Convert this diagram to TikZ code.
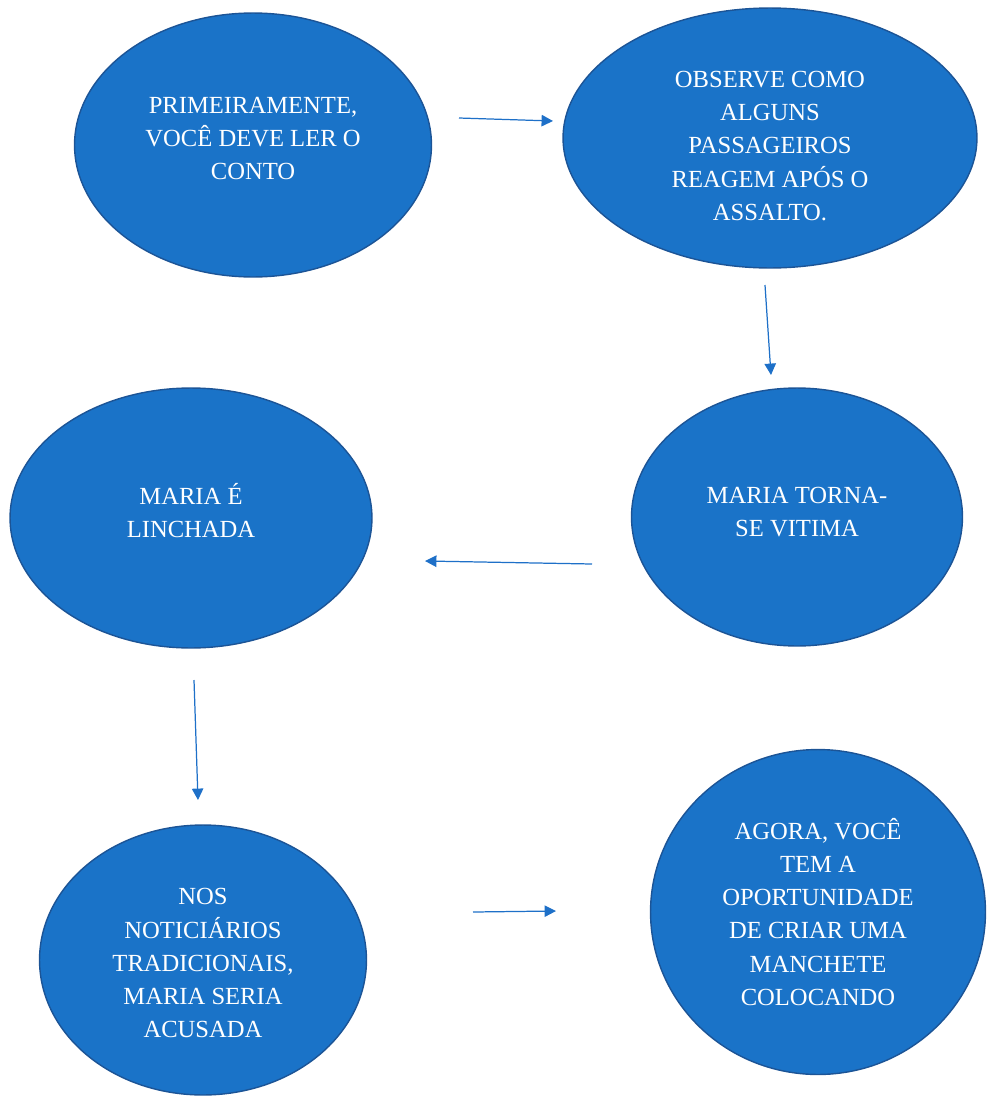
\documentclass[tikz,border=0pt]{standalone}
\usepackage{fontspec}
\setmainfont{Liberation Serif}
\usetikzlibrary{shapes.geometric,arrows.meta}

\definecolor{bubble}{RGB}{26,115,200}
\definecolor{bubbleline}{RGB}{28,84,150}
\definecolor{arrowblue}{RGB}{30,112,200}

\tikzset{
  bubble/.style={ellipse, fill=bubble, draw=bubbleline, line width=0.8pt,
    inner sep=0pt},
  words/.style={align=center, text=white, inner sep=0pt,
    font=\fontsize{14}{18.8}\selectfont},
  link/.style={draw=arrowblue, line width=0.7pt,
    -{Triangle[length=6.5pt,width=6.5pt]}}
}

\begin{document}
\begin{tikzpicture}[x=0.02cm,y=-0.02cm]
      \useasboundingbox (0,0) rectangle (988,1096);

      \node[bubble, minimum width=7.14cm, minimum height=5.28cm,
        label={[words, yshift=0.13cm]center:{PRIMEIRAMENTE,\\VOCÊ DEVE LER O\\CONTO}}]
        (ler) at (253,145) {};
      \node[bubble, minimum width=8.28cm, minimum height=5.2cm,
        label={[words, yshift=-0.16cm]center:{OBSERVE COMO\\ALGUNS\\PASSAGEIROS\\REAGEM APÓS O\\ASSALTO.}}]
        (observe) at (770,138) {};
      \node[bubble, minimum width=6.62cm, minimum height=5.16cm,
        label={[words, yshift=0.1cm]center:{MARIA TORNA-\\SE VITIMA}}]
        (vitima) at (797,517) {};
      \node[bubble, minimum width=7.24cm, minimum height=5.2cm,
        label={[words, yshift=0.14cm]center:{MARIA É\\LINCHADA}}]
        (linchada) at (191,518) {};
      \node[bubble, minimum width=6.54cm, minimum height=5.4cm,
        label={[words, yshift=-0.06cm]center:{NOS\\NOTICIÁRIOS\\TRADICIONAIS,\\MARIA SERIA\\ACUSADA}}]
        (noticia) at (203,960) {};
      \node[bubble, minimum width=6.7cm, minimum height=6.5cm,
        label={[words]center:{AGORA, VOCÊ\\TEM A\\OPORTUNIDADE\\DE CRIAR UMA\\MANCHETE\\COLOCANDO}}]
        (manchete) at (818,912) {};

      \coordinate (a1) at (459,118);
      \coordinate (b1) at (553,121);
      \coordinate (a2) at (765,285);
      \coordinate (b2) at (771,375);
      \coordinate (a3) at (592,564);
      \coordinate (b3) at (425,561);
      \coordinate (a4) at (194,680);
      \coordinate (b4) at (198,800);
      \coordinate (a5) at (473,912);
      \coordinate (b5) at (556,911);

      \draw[link] (a1) -- (b1);
      \draw[link] (a2) -- (b2);
      \draw[link] (a3) -- (b3);
      \draw[link] (a4) -- (b4);
      \draw[link] (a5) -- (b5);
    \end{tikzpicture}
\end{document}
